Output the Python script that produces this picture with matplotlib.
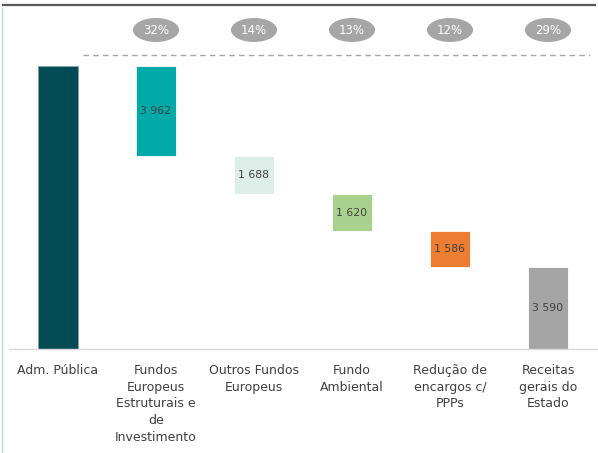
import matplotlib.pyplot as plt
from matplotlib.patches import Ellipse
from matplotlib.lines import Line2D

categories = ["Adm. Pública", "Fundos\nEuropeus\nEstruturais e\nde\nInvestimento",
              "Outros Fundos\nEuropeus", "Fundo\nAmbiental",
              "Redução de\nencargos c/\nPPPs", "Receitas\ngerais do\nEstado"]
contrib = [3962, 1688, 1620, 1586, 3590]
contrib_labels = ["3 962", "1 688", "1 620", "1 586", "3 590"]
shares = ["32%", "14%", "13%", "12%", "29%"]
colors = ["#024a54", "#00aaa8", "#ddeee9", "#a9d18e", "#ed7d31", "#a5a5a5"]

total = sum(contrib)

fig = plt.figure(figsize=(5.98, 4.53), dpi=100)
ax = fig.add_axes([9/598, (453-349)/453, 588/598, 341/453])

# total bar
ax.bar(0, total, width=0.41, color=colors[0], edgecolor="#7fa4a9", linewidth=0.6)

# waterfall steps down from the total
top = total
for i, v in enumerate(contrib):
    x = i + 1
    ax.bar(x, v, bottom=top - v, width=0.41, color=colors[i+1],
           edgecolor="#ffffff", linewidth=0.6)
    ax.text(x, top - v/2, contrib_labels[i], ha="center", va="center",
            fontsize=7.8, color="#404040")
    top -= v

ax.set_xlim(-0.5, 5.5)
ymax = 341 / (283 / total)
ax.set_ylim(0, ymax)

# share ellipses and dashed guide
py = 283 / total
ell_y = (349 - 30) / py
for i, s in enumerate(shares):
    ax.add_patch(Ellipse((i + 1, ell_y), 0.47, 24/py, facecolor="#a6a6a6",
                         edgecolor="none"))
    ax.text(i + 1, ell_y, s, ha="center", va="center", fontsize=8.5, color="white")
ax.plot([0.26, 5.43], [(349-55)/py]*2, color="#a6a6a6", linestyle=(0, (4, 3)),
        linewidth=1)

for side in ["top", "right", "left"]:
    ax.spines[side].set_visible(False)
ax.spines["bottom"].set_color("#d9d9d9")
ax.spines["bottom"].set_linewidth(1)
ax.set_yticks([])
ax.set_xticks(range(len(categories)))
ax.set_xticklabels(categories, fontsize=9, color="#404040", linespacing=1.36)
ax.tick_params(axis="x", length=0, pad=11)

# frame lines of the original slide
fig.add_artist(Line2D([3/598, 595/598], [1 - 5/453]*2, color="#595959", linewidth=1.6))
fig.add_artist(Line2D([2/598, 2/598], [1 - 8/453, 0.0], color="#bdd7ee", linewidth=1))

fig.savefig("out.png", dpi=100)
